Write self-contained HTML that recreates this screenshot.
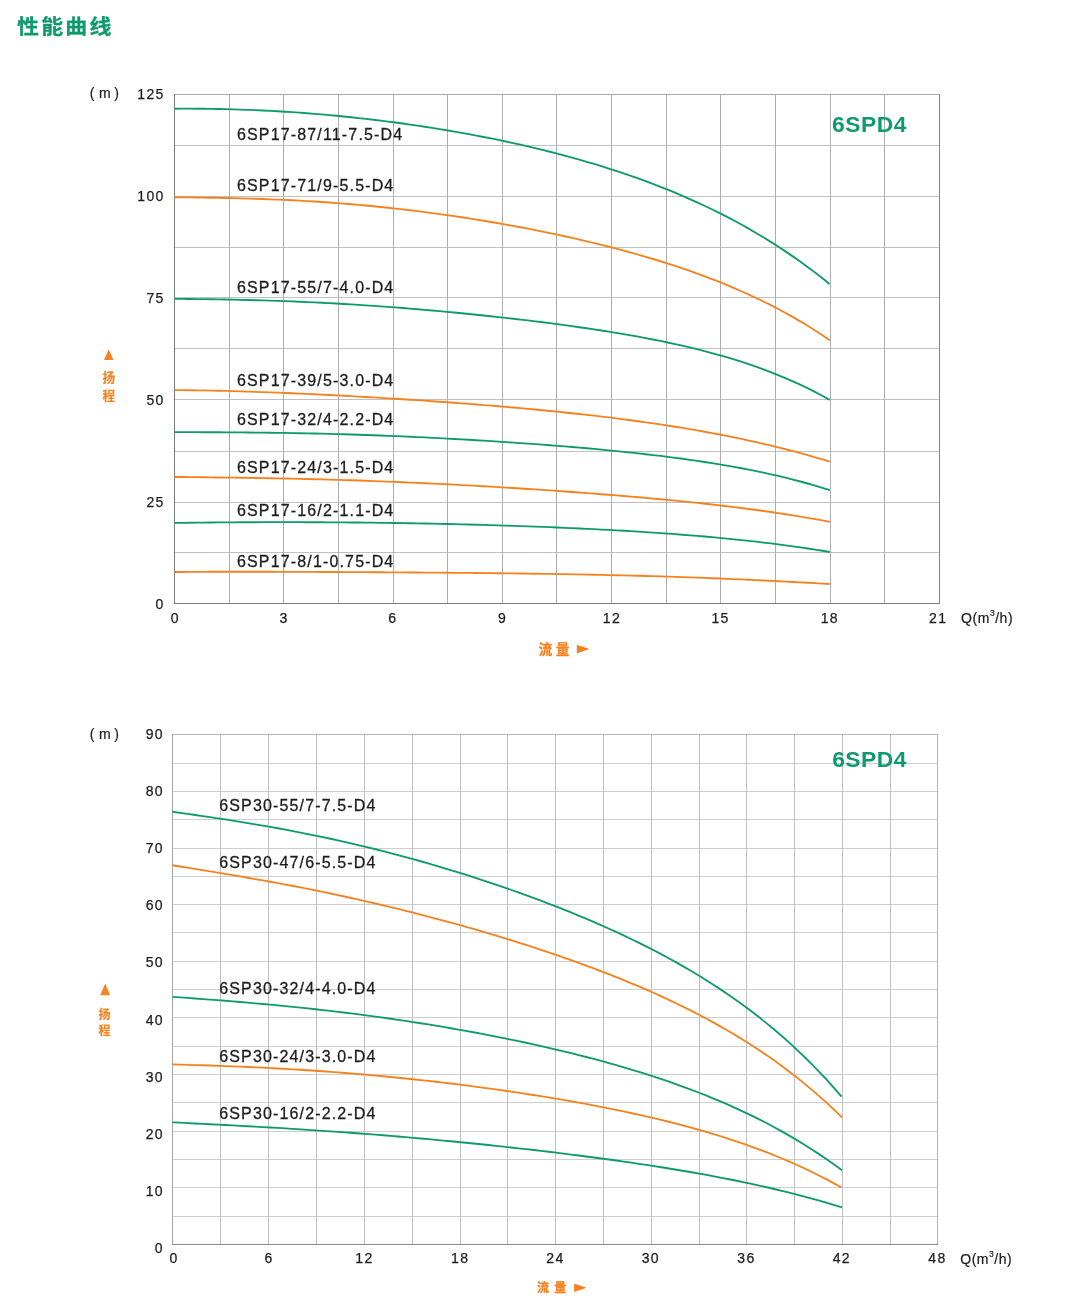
<!DOCTYPE html>
<html lang="zh-CN">
<head>
<meta charset="utf-8">
<title>性能曲线</title>
<style>
html,body{margin:0;padding:0;background:#fff;}
body{width:1077px;height:1310px;overflow:hidden;position:relative;font-family:"Liberation Sans","Noto Sans CJK SC",sans-serif;}
svg{position:absolute;left:0;top:0;display:block;}
text{font-family:"Liberation Sans","Noto Sans CJK SC",sans-serif;fill:#1c1c1c;}
.title{font-size:21px;font-weight:bold;fill:#0f9a6c;letter-spacing:2.15px;stroke:#0f9a6c;stroke-width:0.3px;}
.tick{font-size:14px;letter-spacing:1.3px;stroke:#1c1c1c;stroke-width:0.25px;}
.qlab{font-size:14px;letter-spacing:0.55px;stroke:#1c1c1c;stroke-width:0.2px;}
.unit{font-size:14px;stroke:#1c1c1c;stroke-width:0.2px;}
.lab{font-size:16px;letter-spacing:1.15px;stroke:#1c1c1c;stroke-width:0.28px;}
.model{font-size:22.8px;font-weight:bold;fill:#0f9a6c;letter-spacing:0.5px;}
.side2{font-size:12px;font-weight:bold;fill:#f5821f;stroke:#f5821f;stroke-width:0.2px;}
.side{font-size:12.6px;font-weight:bold;fill:#f5821f;stroke:#f5821f;stroke-width:0.2px;}
.flow2{font-size:12px;font-weight:bold;fill:#f5821f;stroke:#f5821f;stroke-width:0.3px;}
.flow{font-size:13.4px;font-weight:bold;fill:#f5821f;stroke:#f5821f;stroke-width:0.35px;}
</style>
</head>
<body>
<svg width="1077" height="1310" viewBox="0 0 1077 1310">
<rect x="0" y="0" width="1077" height="1310" fill="#ffffff"/>
<g shape-rendering="auto">
<line x1="174.5" y1="145.5" x2="939.5" y2="145.5" stroke="#c0c0c2" stroke-width="1"/>
<line x1="174.5" y1="196.5" x2="939.5" y2="196.5" stroke="#c0c0c2" stroke-width="1"/>
<line x1="174.5" y1="247.5" x2="939.5" y2="247.5" stroke="#c0c0c2" stroke-width="1"/>
<line x1="174.5" y1="297.5" x2="939.5" y2="297.5" stroke="#c0c0c2" stroke-width="1"/>
<line x1="174.5" y1="348.5" x2="939.5" y2="348.5" stroke="#c0c0c2" stroke-width="1"/>
<line x1="174.5" y1="399.5" x2="939.5" y2="399.5" stroke="#c0c0c2" stroke-width="1"/>
<line x1="174.5" y1="451.5" x2="939.5" y2="451.5" stroke="#c0c0c2" stroke-width="1"/>
<line x1="174.5" y1="502.5" x2="939.5" y2="502.5" stroke="#c0c0c2" stroke-width="1"/>
<line x1="174.5" y1="552.5" x2="939.5" y2="552.5" stroke="#c0c0c2" stroke-width="1"/>
<line x1="229.5" y1="94.5" x2="229.5" y2="603.5" stroke="#aeaeb2" stroke-width="1"/>
<line x1="283.5" y1="94.5" x2="283.5" y2="603.5" stroke="#aeaeb2" stroke-width="1"/>
<line x1="338.5" y1="94.5" x2="338.5" y2="603.5" stroke="#aeaeb2" stroke-width="1"/>
<line x1="393.5" y1="94.5" x2="393.5" y2="603.5" stroke="#aeaeb2" stroke-width="1"/>
<line x1="447.5" y1="94.5" x2="447.5" y2="603.5" stroke="#aeaeb2" stroke-width="1"/>
<line x1="502.5" y1="94.5" x2="502.5" y2="603.5" stroke="#aeaeb2" stroke-width="1"/>
<line x1="556.5" y1="94.5" x2="556.5" y2="603.5" stroke="#aeaeb2" stroke-width="1"/>
<line x1="611.5" y1="94.5" x2="611.5" y2="603.5" stroke="#aeaeb2" stroke-width="1"/>
<line x1="666.5" y1="94.5" x2="666.5" y2="603.5" stroke="#aeaeb2" stroke-width="1"/>
<line x1="720.5" y1="94.5" x2="720.5" y2="603.5" stroke="#aeaeb2" stroke-width="1"/>
<line x1="775.5" y1="94.5" x2="775.5" y2="603.5" stroke="#aeaeb2" stroke-width="1"/>
<line x1="830.5" y1="94.5" x2="830.5" y2="603.5" stroke="#aeaeb2" stroke-width="1"/>
<line x1="884.5" y1="94.5" x2="884.5" y2="603.5" stroke="#aeaeb2" stroke-width="1"/>
<line x1="174.0" y1="94.5" x2="940.0" y2="94.5" stroke="#adadaf" stroke-width="1"/>
<line x1="174.5" y1="94.0" x2="174.5" y2="604.0" stroke="#7c7c80" stroke-width="1"/>
<line x1="939.5" y1="94.0" x2="939.5" y2="604.0" stroke="#86868a" stroke-width="1"/>
<line x1="174.0" y1="603.5" x2="940.0" y2="603.5" stroke="#7c7c80" stroke-width="1"/>
<line x1="172.5" y1="763.5" x2="937.5" y2="763.5" stroke="#cececf" stroke-width="1"/>
<line x1="172.5" y1="791.5" x2="937.5" y2="791.5" stroke="#cececf" stroke-width="1"/>
<line x1="172.5" y1="819.5" x2="937.5" y2="819.5" stroke="#cececf" stroke-width="1"/>
<line x1="172.5" y1="848.5" x2="937.5" y2="848.5" stroke="#cececf" stroke-width="1"/>
<line x1="172.5" y1="876.5" x2="937.5" y2="876.5" stroke="#cececf" stroke-width="1"/>
<line x1="172.5" y1="904.5" x2="937.5" y2="904.5" stroke="#cececf" stroke-width="1"/>
<line x1="172.5" y1="932.5" x2="937.5" y2="932.5" stroke="#cececf" stroke-width="1"/>
<line x1="172.5" y1="961.5" x2="937.5" y2="961.5" stroke="#cececf" stroke-width="1"/>
<line x1="172.5" y1="989.5" x2="937.5" y2="989.5" stroke="#cececf" stroke-width="1"/>
<line x1="172.5" y1="1017.5" x2="937.5" y2="1017.5" stroke="#cececf" stroke-width="1"/>
<line x1="172.5" y1="1046.5" x2="937.5" y2="1046.5" stroke="#cececf" stroke-width="1"/>
<line x1="172.5" y1="1074.5" x2="937.5" y2="1074.5" stroke="#cececf" stroke-width="1"/>
<line x1="172.5" y1="1102.5" x2="937.5" y2="1102.5" stroke="#cececf" stroke-width="1"/>
<line x1="172.5" y1="1131.5" x2="937.5" y2="1131.5" stroke="#cececf" stroke-width="1"/>
<line x1="172.5" y1="1159.5" x2="937.5" y2="1159.5" stroke="#cececf" stroke-width="1"/>
<line x1="172.5" y1="1187.5" x2="937.5" y2="1187.5" stroke="#cececf" stroke-width="1"/>
<line x1="172.5" y1="1216.5" x2="937.5" y2="1216.5" stroke="#cececf" stroke-width="1"/>
<line x1="220.5" y1="734.5" x2="220.5" y2="1244.5" stroke="#c0c0c4" stroke-width="1"/>
<line x1="268.5" y1="734.5" x2="268.5" y2="1244.5" stroke="#c0c0c4" stroke-width="1"/>
<line x1="316.5" y1="734.5" x2="316.5" y2="1244.5" stroke="#c0c0c4" stroke-width="1"/>
<line x1="364.5" y1="734.5" x2="364.5" y2="1244.5" stroke="#c0c0c4" stroke-width="1"/>
<line x1="412.5" y1="734.5" x2="412.5" y2="1244.5" stroke="#c0c0c4" stroke-width="1"/>
<line x1="460.5" y1="734.5" x2="460.5" y2="1244.5" stroke="#c0c0c4" stroke-width="1"/>
<line x1="507.5" y1="734.5" x2="507.5" y2="1244.5" stroke="#c0c0c4" stroke-width="1"/>
<line x1="555.5" y1="734.5" x2="555.5" y2="1244.5" stroke="#c0c0c4" stroke-width="1"/>
<line x1="603.5" y1="734.5" x2="603.5" y2="1244.5" stroke="#c0c0c4" stroke-width="1"/>
<line x1="651.5" y1="734.5" x2="651.5" y2="1244.5" stroke="#c0c0c4" stroke-width="1"/>
<line x1="699.5" y1="734.5" x2="699.5" y2="1244.5" stroke="#c0c0c4" stroke-width="1"/>
<line x1="746.5" y1="734.5" x2="746.5" y2="1244.5" stroke="#c0c0c4" stroke-width="1"/>
<line x1="794.5" y1="734.5" x2="794.5" y2="1244.5" stroke="#c0c0c4" stroke-width="1"/>
<line x1="842.5" y1="734.5" x2="842.5" y2="1244.5" stroke="#c0c0c4" stroke-width="1"/>
<line x1="890.5" y1="734.5" x2="890.5" y2="1244.5" stroke="#c0c0c4" stroke-width="1"/>
<line x1="172.0" y1="734.5" x2="938.0" y2="734.5" stroke="#b8b8ba" stroke-width="1"/>
<line x1="172.5" y1="734.0" x2="172.5" y2="1245.0" stroke="#a4a4a7" stroke-width="1"/>
<line x1="937.5" y1="734.0" x2="937.5" y2="1245.0" stroke="#b2b2b5" stroke-width="1"/>
<line x1="172.0" y1="1244.5" x2="938.0" y2="1244.5" stroke="#8a8a8d" stroke-width="1"/>
</g>
<g>
<path d="M174.5,108.75 L181.9,108.70 L189.2,108.69 L196.6,108.71 L203.9,108.76 L211.3,108.86 L218.7,108.98 L226.0,109.15 L233.4,109.34 L240.7,109.58 L248.1,109.85 L255.5,110.15 L262.8,110.49 L270.2,110.86 L277.5,111.27 L284.9,111.71 L292.3,112.19 L299.6,112.70 L307.0,113.25 L314.4,113.83 L321.7,114.45 L329.1,115.10 L336.4,115.78 L343.8,116.50 L351.2,117.26 L358.5,118.05 L365.9,118.87 L373.2,119.73 L380.6,120.62 L388.0,121.55 L395.3,122.51 L402.7,123.51 L410.0,124.55 L417.4,125.62 L424.8,126.73 L432.1,127.87 L439.5,129.06 L446.8,130.28 L454.2,131.54 L461.6,132.84 L468.9,134.17 L476.3,135.55 L483.6,136.97 L491.0,138.43 L498.4,139.94 L505.7,141.49 L513.1,143.08 L520.5,144.72 L527.8,146.41 L535.2,148.15 L542.5,149.94 L549.9,151.77 L557.3,153.66 L564.6,155.61 L572.0,157.61 L579.3,159.67 L586.7,161.79 L594.1,163.97 L601.4,166.22 L608.8,168.53 L616.1,170.91 L623.5,173.36 L630.9,175.89 L638.2,178.49 L645.6,181.16 L652.9,183.92 L660.3,186.77 L667.7,189.70 L675.0,192.72 L682.4,195.83 L689.7,199.04 L697.1,202.36 L704.5,205.77 L711.8,209.29 L719.2,212.93 L726.6,216.68 L733.9,220.55 L741.3,224.55 L748.6,228.67 L756.0,232.93 L763.4,237.32 L770.7,241.86 L778.1,246.55 L785.4,251.39 L792.8,256.38 L800.2,261.55 L807.5,266.88 L814.9,272.38 L822.2,278.07 L829.6,283.95" fill="none" stroke="#0f9a6c" stroke-width="1.85" stroke-linecap="butt"/>
<path d="M174.5,197.29 L181.9,197.37 L189.2,197.45 L196.6,197.54 L204.0,197.64 L211.3,197.75 L218.7,197.87 L226.0,198.02 L233.4,198.18 L240.8,198.35 L248.1,198.56 L255.5,198.78 L262.9,199.03 L270.2,199.30 L277.6,199.60 L284.9,199.93 L292.3,200.29 L299.7,200.67 L307.0,201.09 L314.4,201.53 L321.8,202.01 L329.1,202.52 L336.5,203.06 L343.8,203.63 L351.2,204.23 L358.6,204.87 L365.9,205.54 L373.3,206.25 L380.7,206.98 L388.0,207.75 L395.4,208.55 L402.8,209.39 L410.1,210.26 L417.5,211.16 L424.8,212.09 L432.2,213.06 L439.6,214.06 L446.9,215.09 L454.3,216.16 L461.7,217.26 L469.0,218.39 L476.4,219.56 L483.7,220.76 L491.1,221.99 L498.5,223.26 L505.8,224.56 L513.2,225.90 L520.6,227.27 L527.9,228.67 L535.3,230.12 L542.6,231.59 L550.0,233.11 L557.4,234.67 L564.7,236.26 L572.1,237.90 L579.5,239.57 L586.8,241.29 L594.2,243.06 L601.5,244.87 L608.9,246.73 L616.3,248.63 L623.6,250.59 L631.0,252.60 L638.4,254.67 L645.7,256.80 L653.1,258.99 L660.5,261.24 L667.8,263.56 L675.2,265.95 L682.5,268.41 L689.9,270.95 L697.3,273.57 L704.6,276.28 L712.0,279.07 L719.4,281.96 L726.7,284.94 L734.1,288.03 L741.4,291.23 L748.8,294.54 L756.2,297.97 L763.5,301.52 L770.9,305.20 L778.3,309.02 L785.6,312.99 L793.0,317.10 L800.3,321.37 L807.7,325.81 L815.1,330.42 L822.4,335.21 L829.8,340.20" fill="none" stroke="#f5821f" stroke-width="1.85" stroke-linecap="butt"/>
<path d="M174.5,298.83 L181.9,298.91 L189.2,298.99 L196.6,299.08 L203.9,299.18 L211.3,299.29 L218.7,299.41 L226.0,299.54 L233.4,299.68 L240.7,299.84 L248.1,300.02 L255.5,300.21 L262.8,300.42 L270.2,300.65 L277.5,300.89 L284.9,301.15 L292.3,301.44 L299.6,301.74 L307.0,302.06 L314.4,302.40 L321.7,302.76 L329.1,303.14 L336.4,303.54 L343.8,303.96 L351.2,304.40 L358.5,304.86 L365.9,305.34 L373.2,305.84 L380.6,306.36 L388.0,306.89 L395.3,307.45 L402.7,308.02 L410.0,308.61 L417.4,309.22 L424.8,309.85 L432.1,310.49 L439.5,311.15 L446.8,311.83 L454.2,312.53 L461.6,313.24 L468.9,313.97 L476.3,314.72 L483.6,315.48 L491.0,316.26 L498.4,317.06 L505.7,317.88 L513.1,318.72 L520.5,319.58 L527.8,320.45 L535.2,321.35 L542.5,322.27 L549.9,323.20 L557.3,324.17 L564.6,325.15 L572.0,326.17 L579.3,327.21 L586.7,328.27 L594.1,329.37 L601.4,330.50 L608.8,331.66 L616.1,332.86 L623.5,334.10 L630.9,335.38 L638.2,336.70 L645.6,338.07 L652.9,339.49 L660.3,340.96 L667.7,342.48 L675.0,344.07 L682.4,345.72 L689.7,347.43 L697.1,349.22 L704.5,351.08 L711.8,353.02 L719.2,355.05 L726.6,357.17 L733.9,359.38 L741.3,361.70 L748.6,364.12 L756.0,366.66 L763.4,369.32 L770.7,372.10 L778.1,375.02 L785.4,378.07 L792.8,381.28 L800.2,384.64 L807.5,388.17 L814.9,391.87 L822.2,395.75 L829.6,399.82" fill="none" stroke="#0f9a6c" stroke-width="1.85" stroke-linecap="butt"/>
<path d="M174.5,390.06 L181.9,390.13 L189.2,390.22 L196.6,390.33 L204.0,390.45 L211.3,390.60 L218.7,390.77 L226.0,390.95 L233.4,391.15 L240.8,391.36 L248.1,391.60 L255.5,391.84 L262.9,392.10 L270.2,392.38 L277.6,392.66 L284.9,392.96 L292.3,393.27 L299.7,393.60 L307.0,393.93 L314.4,394.28 L321.8,394.64 L329.1,395.01 L336.5,395.39 L343.8,395.78 L351.2,396.18 L358.6,396.58 L365.9,397.00 L373.3,397.43 L380.7,397.87 L388.0,398.32 L395.4,398.77 L402.8,399.24 L410.1,399.72 L417.5,400.20 L424.8,400.70 L432.2,401.21 L439.6,401.72 L446.9,402.25 L454.3,402.79 L461.7,403.34 L469.0,403.90 L476.4,404.47 L483.7,405.06 L491.1,405.66 L498.5,406.27 L505.8,406.89 L513.2,407.53 L520.6,408.19 L527.9,408.86 L535.3,409.54 L542.6,410.25 L550.0,410.97 L557.4,411.70 L564.7,412.46 L572.1,413.24 L579.5,414.04 L586.8,414.86 L594.2,415.70 L601.5,416.56 L608.9,417.45 L616.3,418.37 L623.6,419.31 L631.0,420.28 L638.4,421.28 L645.7,422.31 L653.1,423.36 L660.5,424.45 L667.8,425.58 L675.2,426.74 L682.5,427.93 L689.9,429.16 L697.3,430.43 L704.6,431.75 L712.0,433.10 L719.4,434.49 L726.7,435.93 L734.1,437.42 L741.4,438.95 L748.8,440.53 L756.2,442.17 L763.5,443.85 L770.9,445.59 L778.3,447.39 L785.6,449.24 L793.0,451.16 L800.3,453.13 L807.7,455.17 L815.1,457.28 L822.4,459.45 L829.8,461.69" fill="none" stroke="#f5821f" stroke-width="1.85" stroke-linecap="butt"/>
<path d="M174.5,432.13 L181.9,432.14 L189.2,432.16 L196.6,432.18 L204.0,432.21 L211.3,432.23 L218.7,432.27 L226.0,432.31 L233.4,432.36 L240.8,432.41 L248.1,432.47 L255.5,432.55 L262.9,432.63 L270.2,432.72 L277.6,432.83 L284.9,432.94 L292.3,433.07 L299.7,433.21 L307.0,433.36 L314.4,433.52 L321.8,433.69 L329.1,433.88 L336.5,434.08 L343.8,434.29 L351.2,434.52 L358.6,434.75 L365.9,435.00 L373.3,435.27 L380.7,435.54 L388.0,435.83 L395.4,436.13 L402.8,436.44 L410.1,436.76 L417.5,437.10 L424.8,437.45 L432.2,437.81 L439.6,438.18 L446.9,438.56 L454.3,438.96 L461.7,439.37 L469.0,439.79 L476.4,440.22 L483.7,440.66 L491.1,441.12 L498.5,441.59 L505.8,442.07 L513.2,442.57 L520.6,443.07 L527.9,443.59 L535.3,444.13 L542.6,444.68 L550.0,445.24 L557.4,445.82 L564.7,446.41 L572.1,447.02 L579.5,447.65 L586.8,448.29 L594.2,448.95 L601.5,449.64 L608.9,450.34 L616.3,451.06 L623.6,451.81 L631.0,452.58 L638.4,453.38 L645.7,454.21 L653.1,455.06 L660.5,455.94 L667.8,456.86 L675.2,457.81 L682.5,458.79 L689.9,459.81 L697.3,460.88 L704.6,461.98 L712.0,463.13 L719.4,464.33 L726.7,465.57 L734.1,466.87 L741.4,468.23 L748.8,469.65 L756.2,471.12 L763.5,472.67 L770.9,474.28 L778.3,475.96 L785.6,477.72 L793.0,479.57 L800.3,481.49 L807.7,483.51 L815.1,485.62 L822.4,487.82 L829.8,490.13" fill="none" stroke="#0f9a6c" stroke-width="1.85" stroke-linecap="butt"/>
<path d="M174.5,476.96 L181.9,477.04 L189.2,477.12 L196.6,477.20 L204.0,477.28 L211.3,477.37 L218.7,477.46 L226.0,477.55 L233.4,477.65 L240.8,477.75 L248.1,477.86 L255.5,477.98 L262.9,478.10 L270.2,478.23 L277.6,478.38 L284.9,478.52 L292.3,478.68 L299.7,478.85 L307.0,479.02 L314.4,479.21 L321.8,479.41 L329.1,479.61 L336.5,479.83 L343.8,480.05 L351.2,480.29 L358.6,480.54 L365.9,480.79 L373.3,481.06 L380.7,481.34 L388.0,481.62 L395.4,481.92 L402.8,482.23 L410.1,482.55 L417.5,482.88 L424.8,483.21 L432.2,483.56 L439.6,483.92 L446.9,484.29 L454.3,484.67 L461.7,485.05 L469.0,485.45 L476.4,485.86 L483.7,486.27 L491.1,486.69 L498.5,487.13 L505.8,487.57 L513.2,488.02 L520.6,488.49 L527.9,488.96 L535.3,489.44 L542.6,489.93 L550.0,490.43 L557.4,490.94 L564.7,491.46 L572.1,491.99 L579.5,492.53 L586.8,493.08 L594.2,493.64 L601.5,494.21 L608.9,494.79 L616.3,495.39 L623.6,496.00 L631.0,496.62 L638.4,497.26 L645.7,497.91 L653.1,498.57 L660.5,499.25 L667.8,499.95 L675.2,500.66 L682.5,501.39 L689.9,502.14 L697.3,502.92 L704.6,503.71 L712.0,504.52 L719.4,505.36 L726.7,506.23 L734.1,507.12 L741.4,508.03 L748.8,508.98 L756.2,509.96 L763.5,510.97 L770.9,512.01 L778.3,513.10 L785.6,514.22 L793.0,515.37 L800.3,516.58 L807.7,517.82 L815.1,519.12 L822.4,520.46 L829.8,521.85" fill="none" stroke="#f5821f" stroke-width="1.85" stroke-linecap="butt"/>
<path d="M174.5,522.91 L181.9,522.82 L189.2,522.73 L196.6,522.65 L204.0,522.57 L211.3,522.50 L218.7,522.44 L226.0,522.38 L233.4,522.33 L240.8,522.28 L248.1,522.25 L255.5,522.22 L262.9,522.19 L270.2,522.17 L277.6,522.16 L284.9,522.16 L292.3,522.17 L299.7,522.18 L307.0,522.20 L314.4,522.22 L321.8,522.26 L329.1,522.30 L336.5,522.35 L343.8,522.40 L351.2,522.47 L358.6,522.54 L365.9,522.62 L373.3,522.70 L380.7,522.80 L388.0,522.90 L395.4,523.01 L402.8,523.13 L410.1,523.25 L417.5,523.38 L424.8,523.52 L432.2,523.67 L439.6,523.83 L446.9,523.99 L454.3,524.16 L461.7,524.34 L469.0,524.53 L476.4,524.73 L483.7,524.93 L491.1,525.15 L498.5,525.37 L505.8,525.60 L513.2,525.84 L520.6,526.09 L527.9,526.35 L535.3,526.62 L542.6,526.90 L550.0,527.19 L557.4,527.49 L564.7,527.81 L572.1,528.13 L579.5,528.47 L586.8,528.81 L594.2,529.18 L601.5,529.55 L608.9,529.94 L616.3,530.34 L623.6,530.76 L631.0,531.19 L638.4,531.64 L645.7,532.11 L653.1,532.59 L660.5,533.10 L667.8,533.62 L675.2,534.16 L682.5,534.72 L689.9,535.30 L697.3,535.91 L704.6,536.54 L712.0,537.19 L719.4,537.87 L726.7,538.58 L734.1,539.31 L741.4,540.08 L748.8,540.87 L756.2,541.69 L763.5,542.55 L770.9,543.44 L778.3,544.37 L785.6,545.33 L793.0,546.34 L800.3,547.38 L807.7,548.46 L815.1,549.59 L822.4,550.77 L829.8,551.99" fill="none" stroke="#0f9a6c" stroke-width="1.85" stroke-linecap="butt"/>
<path d="M174.5,572.01 L181.9,571.95 L189.2,571.90 L196.6,571.85 L204.0,571.82 L211.3,571.79 L218.7,571.77 L226.0,571.76 L233.4,571.75 L240.8,571.75 L248.1,571.75 L255.5,571.76 L262.9,571.77 L270.2,571.78 L277.6,571.80 L284.9,571.82 L292.3,571.85 L299.7,571.87 L307.0,571.90 L314.4,571.93 L321.8,571.97 L329.1,572.00 L336.5,572.04 L343.8,572.07 L351.2,572.11 L358.6,572.15 L365.9,572.19 L373.3,572.24 L380.7,572.28 L388.0,572.33 L395.4,572.37 L402.8,572.42 L410.1,572.47 L417.5,572.52 L424.8,572.58 L432.2,572.63 L439.6,572.69 L446.9,572.75 L454.3,572.81 L461.7,572.88 L469.0,572.94 L476.4,573.01 L483.7,573.09 L491.1,573.16 L498.5,573.24 L505.8,573.33 L513.2,573.42 L520.6,573.51 L527.9,573.61 L535.3,573.71 L542.6,573.82 L550.0,573.93 L557.4,574.05 L564.7,574.17 L572.1,574.30 L579.5,574.44 L586.8,574.58 L594.2,574.73 L601.5,574.89 L608.9,575.05 L616.3,575.22 L623.6,575.40 L631.0,575.59 L638.4,575.78 L645.7,575.99 L653.1,576.20 L660.5,576.42 L667.8,576.65 L675.2,576.89 L682.5,577.14 L689.9,577.39 L697.3,577.66 L704.6,577.94 L712.0,578.22 L719.4,578.51 L726.7,578.82 L734.1,579.13 L741.4,579.45 L748.8,579.79 L756.2,580.13 L763.5,580.48 L770.9,580.84 L778.3,581.21 L785.6,581.59 L793.0,581.97 L800.3,582.37 L807.7,582.77 L815.1,583.18 L822.4,583.60 L829.8,584.03" fill="none" stroke="#f5821f" stroke-width="1.85" stroke-linecap="butt"/>
<path d="M172.5,811.72 L180.0,812.80 L187.5,813.88 L195.1,814.97 L202.6,816.07 L210.1,817.18 L217.6,818.31 L225.1,819.46 L232.6,820.64 L240.2,821.84 L247.7,823.06 L255.2,824.32 L262.7,825.61 L270.2,826.92 L277.8,828.27 L285.3,829.66 L292.8,831.08 L300.3,832.54 L307.8,834.04 L315.3,835.57 L322.9,837.14 L330.4,838.75 L337.9,840.41 L345.4,842.10 L352.9,843.83 L360.4,845.60 L368.0,847.42 L375.5,849.27 L383.0,851.17 L390.5,853.10 L398.0,855.08 L405.6,857.10 L413.1,859.16 L420.6,861.26 L428.1,863.40 L435.6,865.59 L443.1,867.81 L450.7,870.08 L458.2,872.39 L465.7,874.74 L473.2,877.13 L480.7,879.57 L488.3,882.05 L495.8,884.57 L503.3,887.14 L510.8,889.75 L518.3,892.41 L525.8,895.12 L533.4,897.87 L540.9,900.68 L548.4,903.54 L555.9,906.45 L563.4,909.41 L571.0,912.43 L578.5,915.52 L586.0,918.66 L593.5,921.87 L601.0,925.14 L608.5,928.48 L616.1,931.90 L623.6,935.39 L631.1,938.97 L638.6,942.63 L646.1,946.37 L653.7,950.22 L661.2,954.16 L668.7,958.20 L676.2,962.35 L683.7,966.62 L691.2,971.00 L698.8,975.52 L706.3,980.17 L713.8,984.96 L721.3,989.89 L728.8,994.99 L736.3,1000.24 L743.9,1005.68 L751.4,1011.29 L758.9,1017.09 L766.4,1023.10 L773.9,1029.31 L781.5,1035.75 L789.0,1042.42 L796.5,1049.34 L804.0,1056.51 L811.5,1063.95 L819.0,1071.67 L826.6,1079.68 L834.1,1088.01 L841.6,1096.65" fill="none" stroke="#0f9a6c" stroke-width="1.85" stroke-linecap="butt"/>
<path d="M172.5,865.25 L180.0,866.48 L187.5,867.70 L195.1,868.93 L202.6,870.16 L210.1,871.40 L217.6,872.64 L225.2,873.90 L232.7,875.17 L240.2,876.45 L247.7,877.75 L255.2,879.07 L262.8,880.41 L270.3,881.77 L277.8,883.15 L285.3,884.55 L292.9,885.98 L300.4,887.44 L307.9,888.92 L315.4,890.43 L322.9,891.96 L330.5,893.53 L338.0,895.12 L345.5,896.74 L353.0,898.39 L360.6,900.07 L368.1,901.78 L375.6,903.52 L383.1,905.29 L390.7,907.09 L398.2,908.92 L405.7,910.78 L413.2,912.68 L420.7,914.60 L428.3,916.55 L435.8,918.54 L443.3,920.56 L450.8,922.61 L458.4,924.69 L465.9,926.81 L473.4,928.95 L480.9,931.13 L488.4,933.35 L496.0,935.60 L503.5,937.88 L511.0,940.20 L518.5,942.56 L526.1,944.96 L533.6,947.39 L541.1,949.86 L548.6,952.38 L556.1,954.94 L563.7,957.54 L571.2,960.19 L578.7,962.88 L586.2,965.63 L593.8,968.43 L601.3,971.28 L608.8,974.19 L616.3,977.16 L623.8,980.19 L631.4,983.29 L638.9,986.46 L646.4,989.70 L653.9,993.02 L661.5,996.42 L669.0,999.90 L676.5,1003.47 L684.0,1007.14 L691.6,1010.91 L699.1,1014.78 L706.6,1018.76 L714.1,1022.86 L721.6,1027.08 L729.2,1031.43 L736.7,1035.91 L744.2,1040.53 L751.7,1045.31 L759.3,1050.24 L766.8,1055.34 L774.3,1060.61 L781.8,1066.06 L789.3,1071.70 L796.9,1077.54 L804.4,1083.60 L811.9,1089.87 L819.4,1096.37 L827.0,1103.12 L834.5,1110.11 L842.0,1117.37" fill="none" stroke="#f5821f" stroke-width="1.85" stroke-linecap="butt"/>
<path d="M172.5,996.86 L180.0,997.41 L187.5,997.95 L195.1,998.50 L202.6,999.06 L210.1,999.63 L217.6,1000.20 L225.2,1000.79 L232.7,1001.40 L240.2,1002.01 L247.7,1002.65 L255.2,1003.30 L262.8,1003.96 L270.3,1004.65 L277.8,1005.36 L285.3,1006.09 L292.9,1006.83 L300.4,1007.60 L307.9,1008.40 L315.4,1009.21 L322.9,1010.05 L330.5,1010.91 L338.0,1011.80 L345.5,1012.71 L353.0,1013.65 L360.6,1014.61 L368.1,1015.60 L375.6,1016.61 L383.1,1017.65 L390.7,1018.72 L398.2,1019.81 L405.7,1020.93 L413.2,1022.08 L420.7,1023.25 L428.3,1024.45 L435.8,1025.68 L443.3,1026.94 L450.8,1028.23 L458.4,1029.54 L465.9,1030.89 L473.4,1032.26 L480.9,1033.67 L488.4,1035.11 L496.0,1036.58 L503.5,1038.08 L511.0,1039.61 L518.5,1041.18 L526.1,1042.78 L533.6,1044.42 L541.1,1046.09 L548.6,1047.81 L556.1,1049.56 L563.7,1051.35 L571.2,1053.19 L578.7,1055.07 L586.2,1056.99 L593.8,1058.96 L601.3,1060.98 L608.8,1063.05 L616.3,1065.17 L623.8,1067.34 L631.4,1069.58 L638.9,1071.87 L646.4,1074.23 L653.9,1076.65 L661.5,1079.14 L669.0,1081.70 L676.5,1084.34 L684.0,1087.06 L691.6,1089.85 L699.1,1092.74 L706.6,1095.71 L714.1,1098.77 L721.6,1101.94 L729.2,1105.21 L736.7,1108.58 L744.2,1112.07 L751.7,1115.67 L759.3,1119.40 L766.8,1123.26 L774.3,1127.25 L781.8,1131.38 L789.3,1135.66 L796.9,1140.10 L804.4,1144.69 L811.9,1149.45 L819.4,1154.39 L827.0,1159.50 L834.5,1164.81 L842.0,1170.31" fill="none" stroke="#0f9a6c" stroke-width="1.85" stroke-linecap="butt"/>
<path d="M172.5,1064.41 L180.0,1064.62 L187.5,1064.83 L195.1,1065.06 L202.6,1065.29 L210.1,1065.54 L217.6,1065.80 L225.1,1066.08 L232.6,1066.37 L240.2,1066.67 L247.7,1067.00 L255.2,1067.34 L262.7,1067.69 L270.2,1068.07 L277.7,1068.47 L285.3,1068.89 L292.8,1069.32 L300.3,1069.78 L307.8,1070.26 L315.3,1070.76 L322.8,1071.28 L330.4,1071.83 L337.9,1072.39 L345.4,1072.98 L352.9,1073.59 L360.4,1074.22 L367.9,1074.87 L375.5,1075.55 L383.0,1076.25 L390.5,1076.96 L398.0,1077.71 L405.5,1078.47 L413.0,1079.26 L420.6,1080.07 L428.1,1080.90 L435.6,1081.75 L443.1,1082.63 L450.6,1083.53 L458.1,1084.45 L465.7,1085.39 L473.2,1086.36 L480.7,1087.35 L488.2,1088.37 L495.7,1089.41 L503.2,1090.47 L510.8,1091.56 L518.3,1092.67 L525.8,1093.81 L533.3,1094.98 L540.8,1096.17 L548.3,1097.39 L555.9,1098.64 L563.4,1099.92 L570.9,1101.23 L578.4,1102.58 L585.9,1103.95 L593.4,1105.36 L601.0,1106.81 L608.5,1108.30 L616.0,1109.82 L623.5,1111.39 L631.0,1112.99 L638.5,1114.65 L646.1,1116.34 L653.6,1118.09 L661.1,1119.89 L668.6,1121.75 L676.1,1123.66 L683.6,1125.63 L691.2,1127.66 L698.7,1129.76 L706.2,1131.93 L713.7,1134.17 L721.2,1136.49 L728.7,1138.88 L736.3,1141.36 L743.8,1143.93 L751.3,1146.59 L758.8,1149.35 L766.3,1152.21 L773.8,1155.17 L781.4,1158.25 L788.9,1161.44 L796.4,1164.75 L803.9,1168.20 L811.4,1171.77 L818.9,1175.49 L826.5,1179.35 L834.0,1183.36 L841.5,1187.54" fill="none" stroke="#f5821f" stroke-width="1.85" stroke-linecap="butt"/>
<path d="M172.5,1122.32 L180.0,1122.70 L187.5,1123.08 L195.1,1123.46 L202.6,1123.85 L210.1,1124.23 L217.6,1124.62 L225.2,1125.02 L232.7,1125.41 L240.2,1125.82 L247.7,1126.23 L255.2,1126.65 L262.8,1127.07 L270.3,1127.51 L277.8,1127.95 L285.3,1128.40 L292.9,1128.86 L300.4,1129.34 L307.9,1129.82 L315.4,1130.31 L322.9,1130.82 L330.5,1131.34 L338.0,1131.86 L345.5,1132.40 L353.0,1132.96 L360.6,1133.52 L368.1,1134.10 L375.6,1134.69 L383.1,1135.29 L390.7,1135.90 L398.2,1136.53 L405.7,1137.17 L413.2,1137.82 L420.7,1138.48 L428.3,1139.16 L435.8,1139.85 L443.3,1140.55 L450.8,1141.27 L458.4,1142.00 L465.9,1142.74 L473.4,1143.49 L480.9,1144.26 L488.4,1145.04 L496.0,1145.84 L503.5,1146.64 L511.0,1147.46 L518.5,1148.30 L526.1,1149.15 L533.6,1150.01 L541.1,1150.89 L548.6,1151.78 L556.1,1152.69 L563.7,1153.61 L571.2,1154.55 L578.7,1155.50 L586.2,1156.48 L593.8,1157.46 L601.3,1158.47 L608.8,1159.50 L616.3,1160.54 L623.8,1161.61 L631.4,1162.70 L638.9,1163.81 L646.4,1164.94 L653.9,1166.09 L661.5,1167.27 L669.0,1168.48 L676.5,1169.72 L684.0,1170.98 L691.6,1172.27 L699.1,1173.60 L706.6,1174.96 L714.1,1176.35 L721.6,1177.79 L729.2,1179.26 L736.7,1180.77 L744.2,1182.32 L751.7,1183.92 L759.3,1185.56 L766.8,1187.25 L774.3,1189.00 L781.8,1190.80 L789.3,1192.66 L796.9,1194.57 L804.4,1196.55 L811.9,1198.60 L819.4,1200.71 L827.0,1202.89 L834.5,1205.15 L842.0,1207.49" fill="none" stroke="#0f9a6c" stroke-width="1.85" stroke-linecap="butt"/>
</g>
<g>
<text class="title" transform="translate(17.0,33.5) scale(1.045,0.97)">性能曲线</text>
<text x="164.6" y="98.5" class="tick" text-anchor="end" >125</text>
<text x="164.6" y="200.6" class="tick" text-anchor="end" >100</text>
<text x="164.6" y="302.7" class="tick" text-anchor="end" >75</text>
<text x="164.6" y="404.8" class="tick" text-anchor="end" >50</text>
<text x="164.6" y="506.9" class="tick" text-anchor="end" >25</text>
<text x="164.6" y="608.9" class="tick" text-anchor="end" >0</text>
<text y="98.0" class="unit"><tspan x="89.8">(</tspan><tspan x="99.0">m</tspan><tspan x="114.2">)</tspan></text>
<text x="175.2" y="623.2" class="tick" text-anchor="middle" >0</text>
<text x="284.0" y="623.2" class="tick" text-anchor="middle" >3</text>
<text x="392.8" y="623.2" class="tick" text-anchor="middle" >6</text>
<text x="502.5" y="623.2" class="tick" text-anchor="middle" >9</text>
<text x="611.9" y="623.2" class="tick" text-anchor="middle" >12</text>
<text x="720.6" y="623.2" class="tick" text-anchor="middle" >15</text>
<text x="829.8" y="623.2" class="tick" text-anchor="middle" >18</text>
<text x="938.2" y="623.2" class="tick" text-anchor="middle" >21</text>
<text x="961.0" y="623.4" class="qlab">Q(m<tspan dy="-7" font-size="8.5">3</tspan><tspan dy="7">/h)</tspan></text>
<text x="237.0" y="140.1" class="lab" text-anchor="start" >6SP17-87/11-7.5-D4</text>
<text x="237.0" y="190.8" class="lab" text-anchor="start" >6SP17-71/9-5.5-D4</text>
<text x="237.0" y="292.6" class="lab" text-anchor="start" >6SP17-55/7-4.0-D4</text>
<text x="237.0" y="385.8" class="lab" text-anchor="start" >6SP17-39/5-3.0-D4</text>
<text x="237.0" y="425.1" class="lab" text-anchor="start" >6SP17-32/4-2.2-D4</text>
<text x="237.0" y="472.8" class="lab" text-anchor="start" >6SP17-24/3-1.5-D4</text>
<text x="237.0" y="516.3" class="lab" text-anchor="start" >6SP17-16/2-1.1-D4</text>
<text x="237.0" y="566.7" class="lab" text-anchor="start" >6SP17-8/1-0.75-D4</text>
<text x="832.1" y="132.0" class="model" text-anchor="start" >6SPD4</text>
<polygon points="103.9,359.9 113.5,359.9 108.7,349.5" fill="#f5821f"/>
<text class="side" text-anchor="middle"><tspan x="108.8" y="382.3">扬</tspan><tspan x="108.8" y="399.6">程</tspan></text>
<text x="538.7" y="654.1" class="flow" text-anchor="start" letter-spacing="3.8">流量</text>
<polygon points="576.8,644.7 576.8,653.5 589.4,649.1" fill="#f5821f"/>
<text x="163.9" y="738.9" class="tick" text-anchor="end" >90</text>
<text x="163.9" y="796.0" class="tick" text-anchor="end" >80</text>
<text x="163.9" y="853.1" class="tick" text-anchor="end" >70</text>
<text x="163.9" y="910.3" class="tick" text-anchor="end" >60</text>
<text x="163.9" y="967.4" class="tick" text-anchor="end" >50</text>
<text x="163.9" y="1024.5" class="tick" text-anchor="end" >40</text>
<text x="163.9" y="1081.6" class="tick" text-anchor="end" >30</text>
<text x="163.9" y="1138.7" class="tick" text-anchor="end" >20</text>
<text x="163.9" y="1195.9" class="tick" text-anchor="end" >10</text>
<text x="163.9" y="1253.0" class="tick" text-anchor="end" >0</text>
<text y="738.6" class="unit"><tspan x="89.8">(</tspan><tspan x="99.0">m</tspan><tspan x="114.2">)</tspan></text>
<text x="174.0" y="1263.4" class="tick" text-anchor="middle" >0</text>
<text x="269.1" y="1263.4" class="tick" text-anchor="middle" >6</text>
<text x="364.4" y="1263.4" class="tick" text-anchor="middle" >12</text>
<text x="460.2" y="1263.4" class="tick" text-anchor="middle" >18</text>
<text x="555.4" y="1263.4" class="tick" text-anchor="middle" >24</text>
<text x="650.8" y="1263.4" class="tick" text-anchor="middle" >30</text>
<text x="746.4" y="1263.4" class="tick" text-anchor="middle" >36</text>
<text x="841.8" y="1263.4" class="tick" text-anchor="middle" >42</text>
<text x="937.4" y="1263.4" class="tick" text-anchor="middle" >48</text>
<text x="960.2" y="1263.5" class="qlab">Q(m<tspan dy="-7" font-size="8.5">3</tspan><tspan dy="7">/h)</tspan></text>
<text x="219.2" y="810.7" class="lab" text-anchor="start" >6SP30-55/7-7.5-D4</text>
<text x="219.2" y="868.1" class="lab" text-anchor="start" >6SP30-47/6-5.5-D4</text>
<text x="219.2" y="993.6" class="lab" text-anchor="start" >6SP30-32/4-4.0-D4</text>
<text x="219.2" y="1062.1" class="lab" text-anchor="start" >6SP30-24/3-3.0-D4</text>
<text x="219.2" y="1118.5" class="lab" text-anchor="start" >6SP30-16/2-2.2-D4</text>
<text x="832.2" y="767.2" class="model" text-anchor="start" >6SPD4</text>
<polygon points="100.2,995.2 110.1,995.2 105.2,983.6" fill="#f5821f"/>
<text class="side2" text-anchor="middle"><tspan x="104.4" y="1019.3">扬</tspan><tspan x="104.4" y="1035.1">程</tspan></text>
<text x="537.1" y="1291.9" class="flow2" text-anchor="start" letter-spacing="5.1">流量</text>
<polygon points="574.1,1283.5 574.1,1291.9 586.5,1287.7" fill="#f5821f"/>
</g>
</svg>
</body>
</html>
